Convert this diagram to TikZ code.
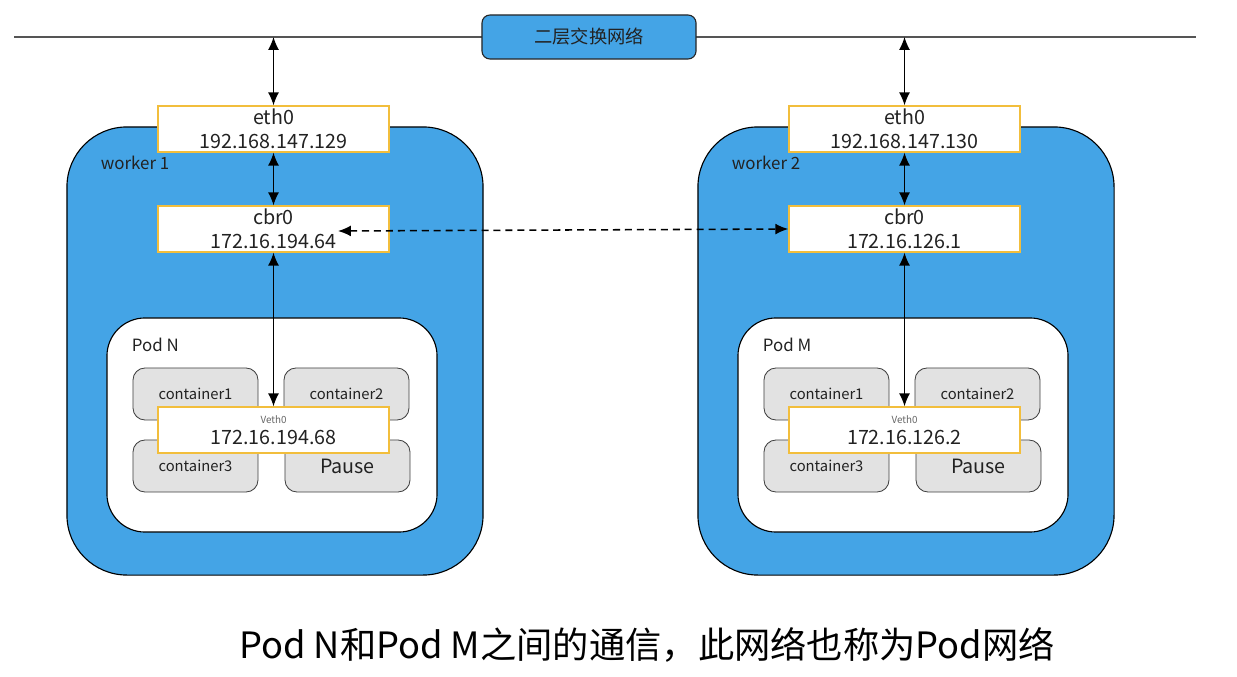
\documentclass[tikz,border=0pt]{standalone}
\usepackage{fontspec}
\setmainfont{Noto Sans CJK SC}
\usetikzlibrary{arrows.meta, positioning}
\definecolor{wb}{HTML}{44A4E6}
\definecolor{ob}{HTML}{F2BE3C}
\definecolor{cg}{HTML}{E2E2E2}
\definecolor{ln}{HTML}{555555}
\definecolor{tx}{HTML}{222222}

\tikzset{
    workerbox/.style={draw=black, fill=wb, line width=0.8pt, rounded corners=1.5cm,
        minimum width=10.4cm, minimum height=11.2cm},
    podbox/.style={draw=black, fill=white, line width=0.8pt, rounded corners=0.95cm,
        minimum width=8.25cm, minimum height=5.35cm},
    ctbox/.style={draw=black!75, fill=cg, line width=0.6pt, rounded corners=0.3cm,
        minimum width=3.125cm, minimum height=1.3cm, text=tx,
        font=\fontsize{10.5}{12}\selectfont},
    ifbox/.style={draw=ob, fill=white, line width=1pt, inner sep=0pt, align=center,
        minimum width=5.775cm, minimum height=1.15cm, text=tx,
        font=\fontsize{14}{17}\selectfont},
    link/.style={{Latex[length=3.2mm,width=2.7mm]}-{Latex[length=3.2mm,width=2.7mm]},
        line width=0.8pt},
}

\begin{document}
\begin{tikzpicture}[x=0.025cm, y=-0.025cm]
    \useasboundingbox (0,0) rectangle (1237,677);

    % Switch network
    \draw[ln, line width=0.8pt] (14,37) -- (1196,37);
    \node[draw=black!85, fill=wb, line width=0.8pt, rounded corners=0.2cm,
        minimum width=5.35cm, minimum height=1.1cm, text=tx,
        font=\fontsize{13}{15}\selectfont] (sw) at (589,37) {二层交换网络};

    % Workers
    \foreach \i/\dx/\wname/\pname/\ethip/\cbrip/\vip in {
        1/0/worker 1/Pod N/192.168.147.129/172.16.194.64/172.16.194.68,
        2/631/worker 2/Pod M/192.168.147.130/172.16.126.1/172.16.126.2} {
        \node[workerbox] (w\i) at ({275+\dx},351) {};
        \node[anchor=west, text=tx, font=\fontsize{12}{14}\selectfont] (wl\i) at ({96+\dx},163) {\wname};

        \node[ifbox] (eth\i) at ({273.5+\dx},129) {eth0\\\ethip};
        \node[ifbox] (cbr\i) at ({273.5+\dx},229) {cbr0\\\cbrip};

        % Pod
        \node[podbox] (pod\i) at ({272+\dx},425) {};
        \node[anchor=west, text=tx, font=\fontsize{12}{14}\selectfont] (pl\i) at ({127+\dx},345) {\pname};
        \node[ctbox] (ca\i) at ({195.5+\dx},394) {container1};
        \node[ctbox] (cb\i) at ({346.5+\dx},394) {container2};
        \node[ctbox] (cc\i) at ({195.5+\dx},466) {container3};
        \node[ctbox, font=\fontsize{14}{16}\selectfont] (cp\i) at ({347.5+\dx},466) {Pause};
        \node[ifbox] (veth\i) at ({273.5+\dx},430)
            {{\fontsize{7}{8}\selectfont\color{black!60}Veth0}\\[-2pt]\vip};

        % Links
        \coordinate (tap\i) at ({273.5+\dx},37);
        \draw[link] (tap\i) -- (eth\i);
        \draw[link] (eth\i) -- (cbr\i);
        \draw[link] (cbr\i) -- (veth\i);
    }

    % Pod to pod
    \coordinate (dashL) at (338,231);
    \draw[link, line width=1.1pt, dash pattern=on 5pt off 3.5pt] (dashL) -- (cbr2.west);

    \node[text=black, font=\fontsize{25.8}{30}\selectfont] (cap) at (647,645)
        {Pod N和Pod M之间的通信，此网络也称为Pod网络};
\end{tikzpicture}
\end{document}
